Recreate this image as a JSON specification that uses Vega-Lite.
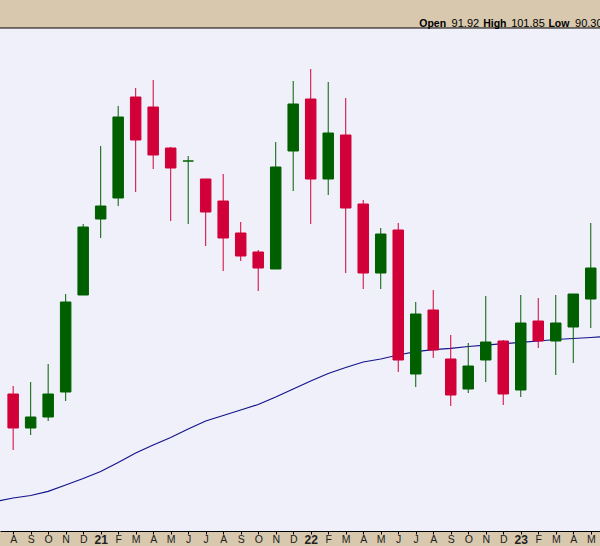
{
  "$schema": "https://vega.github.io/schema/vega-lite/v6.json",
  "width": 600,
  "height": 503,
  "autosize": "none",
  "padding": {"left": 0, "right": 0, "top": 28, "bottom": 15},
  "background": "#d8c8ae",
  "config": {
    "view": {"stroke": null, "fill": "#f0f0fa"},
    "font": "Liberation Sans"
  },
  "resolve": {"axis": {"x": "independent", "y": "independent"}},
  "datasets": {
    "header": [{"label": "header"}],
    "prices": [
      {"month": "2020-07", "i": -1, "open": null, "high": null, "low": null, "close": null, "ma": 68.57},
      {"month": "2020-08", "i": 0, "open": 79.32, "high": 80.12, "low": 73.72, "close": 75.92, "ma": 68.92},
      {"month": "2020-09", "i": 1, "open": 75.92, "high": 80.52, "low": 75.22, "close": 77.02, "ma": 69.17},
      {"month": "2020-10", "i": 2, "open": 77.02, "high": 82.32, "low": 76.62, "close": 79.32, "ma": 69.59},
      {"month": "2020-11", "i": 3, "open": 79.52, "high": 89.32, "low": 78.62, "close": 88.52, "ma": 70.22},
      {"month": "2020-12", "i": 4, "open": 89.22, "high": 96.32, "low": 89.22, "close": 96.02, "ma": 70.87},
      {"month": "2021-01", "i": 5, "open": 96.82, "high": 104.12, "low": 94.92, "close": 98.12, "ma": 71.57},
      {"month": "2021-02", "i": 6, "open": 98.92, "high": 108.12, "low": 98.12, "close": 107.02, "ma": 72.47},
      {"month": "2021-03", "i": 7, "open": 109.02, "high": 109.92, "low": 99.52, "close": 104.72, "ma": 73.42},
      {"month": "2021-04", "i": 8, "open": 108.02, "high": 110.72, "low": 101.82, "close": 103.22, "ma": 74.22},
      {"month": "2021-05", "i": 9, "open": 103.92, "high": 104.02, "low": 96.62, "close": 101.92, "ma": 74.97},
      {"month": "2021-06", "i": 10, "open": 102.62, "high": 103.12, "low": 96.32, "close": 102.62, "ma": 75.82},
      {"month": "2021-07", "i": 11, "open": 100.82, "high": 100.82, "low": 94.12, "close": 97.52, "ma": 76.62},
      {"month": "2021-08", "i": 12, "open": 98.62, "high": 101.32, "low": 91.62, "close": 94.92, "ma": 77.17},
      {"month": "2021-09", "i": 13, "open": 95.42, "high": 96.52, "low": 92.62, "close": 93.12, "ma": 77.72},
      {"month": "2021-10", "i": 14, "open": 93.52, "high": 93.72, "low": 89.62, "close": 91.92, "ma": 78.27},
      {"month": "2021-11", "i": 15, "open": 91.82, "high": 104.52, "low": 91.82, "close": 102.02, "ma": 79.02},
      {"month": "2021-12", "i": 16, "open": 103.62, "high": 110.62, "low": 99.62, "close": 108.32, "ma": 79.82},
      {"month": "2022-01", "i": 17, "open": 108.82, "high": 111.82, "low": 96.32, "close": 100.82, "ma": 80.62},
      {"month": "2022-02", "i": 18, "open": 100.82, "high": 110.52, "low": 99.22, "close": 105.42, "ma": 81.37},
      {"month": "2022-03", "i": 19, "open": 105.22, "high": 108.92, "low": 91.42, "close": 97.92, "ma": 81.97},
      {"month": "2022-04", "i": 20, "open": 98.32, "high": 98.72, "low": 89.82, "close": 91.42, "ma": 82.52},
      {"month": "2022-05", "i": 21, "open": 91.42, "high": 95.92, "low": 89.82, "close": 95.32, "ma": 82.82},
      {"month": "2022-06", "i": 22, "open": 95.72, "high": 96.42, "low": 81.52, "close": 82.72, "ma": 83.22},
      {"month": "2022-07", "i": 23, "open": 81.32, "high": 88.52, "low": 80.02, "close": 87.32, "ma": 83.55},
      {"month": "2022-08", "i": 24, "open": 87.72, "high": 89.72, "low": 82.92, "close": 83.72, "ma": 83.75},
      {"month": "2022-09", "i": 25, "open": 82.82, "high": 85.22, "low": 78.12, "close": 79.22, "ma": 83.89},
      {"month": "2022-10", "i": 26, "open": 79.82, "high": 84.42, "low": 79.42, "close": 82.12, "ma": 84.07},
      {"month": "2022-11", "i": 27, "open": 82.72, "high": 89.12, "low": 80.52, "close": 84.52, "ma": 84.20},
      {"month": "2022-12", "i": 28, "open": 84.62, "high": 84.72, "low": 78.22, "close": 79.32, "ma": 84.35},
      {"month": "2023-01", "i": 29, "open": 79.72, "high": 89.22, "low": 79.02, "close": 86.42, "ma": 84.49},
      {"month": "2023-02", "i": 30, "open": 86.62, "high": 88.92, "low": 83.92, "close": 84.62, "ma": 84.62},
      {"month": "2023-03", "i": 31, "open": 84.62, "high": 89.22, "low": 81.22, "close": 86.42, "ma": 84.77},
      {"month": "2023-04", "i": 32, "open": 86.02, "high": 89.32, "low": 82.42, "close": 89.32, "ma": 84.87},
      {"month": "2023-05", "i": 33, "open": 88.82, "high": 96.42, "low": 85.92, "close": 91.92, "ma": 84.97},
      {"month": "2023-06", "i": 34, "open": null, "high": null, "low": null, "close": null, "ma": 85.07}
    ]
  },
  "layer": [
    {
      "data": {"name": "prices"},
      "encoding": {
        "x": {
          "field": "i",
          "type": "quantitative",
          "scale": {"domain": [-0.4663, 33.2416], "nice": false, "zero": false},
          "axis": {
            "values": [0,1,2,3,4,5,6,7,8,9,10,11,12,13,14,15,16,17,18,19,20,21,22,23,24,25,26,27,28,29,30,31,32,33],
            "labelExpr": "(datum.value+7)%12==0 ? format(20+floor((datum.value+7)/12),'d') : substring('JFMAMJJASOND',(datum.value+7)%12,(datum.value+7)%12+1)",
            "labelFontWeight": {"condition": {"test": "(datum.value+7)%12==0", "value": "bold"}, "value": "normal"},
            "labelFontSize": {"condition": {"test": "(datum.value+7)%12==0", "value": 12}, "value": 10.5},
            "labelFont": "Liberation Sans",
            "labelColor": "#222222",
            "labelPadding": 0,
            "labelFlush": false,
            "labelOverlap": false,
            "labelBound": false,
            "tickSize": 3,
            "tickColor": "#000000",
            "domainColor": "#000000",
            "domainWidth": 1,
            "grid": false,
            "title": null
          }
        },
        "y": {
          "type": "quantitative",
          "scale": {"domain": [65.62, 115.92], "nice": false, "zero": false},
          "axis": null
        }
      },
      "layer": [
        {
          "mark": {"type": "line", "color": "#14148c", "strokeWidth": 1.2, "clip": true},
          "encoding": {"y": {"field": "ma", "type": "quantitative"}}
        },
        {
          "transform": [{"filter": "datum.open != null"}],
          "mark": {"type": "rule", "strokeWidth": 1},
          "encoding": {
            "y": {"field": "low", "type": "quantitative"},
            "y2": {"field": "high"},
            "color": {"condition": {"test": "datum.close >= datum.open", "value": "#006000"}, "value": "#d20038"}
          }
        },
        {
          "transform": [{"filter": "datum.open != null"}],
          "mark": {"type": "bar", "width": 10.5, "strokeWidth": 1},
          "encoding": {
            "y": {"field": "open", "type": "quantitative"},
            "y2": {"field": "close"},
            "color": {"condition": {"test": "datum.close >= datum.open", "value": "#006000"}, "value": "#d20038"},
            "stroke": {"condition": {"test": "datum.close >= datum.open", "value": "#006000"}, "value": "#d20038"}
          }
        }
      ]
    },
    {
      "data": {"name": "header"},
      "mark": {"type": "rule", "color": "#000000", "strokeWidth": 1},
      "encoding": {"y": {"datum": 115.92, "axis": null}}
    },
    {
      "data": {"name": "header"},
      "mark": {"type": "text", "align": "left", "baseline": "alphabetic", "fontWeight": "bold", "fontSize": 10.5, "fill": "#000000", "text": "Open"},
      "encoding": {"x": {"datum": 23.2, "axis": null}, "y": {"datum": 116.07, "axis": null}}
    },
    {
      "data": {"name": "header"},
      "mark": {"type": "text", "align": "left", "baseline": "alphabetic", "fontSize": 11, "fill": "#000000", "text": "91.92"},
      "encoding": {"x": {"datum": 25.05, "axis": null}, "y": {"datum": 116.07, "axis": null}}
    },
    {
      "data": {"name": "header"},
      "mark": {"type": "text", "align": "left", "baseline": "alphabetic", "fontWeight": "bold", "fontSize": 10.5, "fill": "#000000", "text": "High"},
      "encoding": {"x": {"datum": 26.85, "axis": null}, "y": {"datum": 116.07, "axis": null}}
    },
    {
      "data": {"name": "header"},
      "mark": {"type": "text", "align": "left", "baseline": "alphabetic", "fontSize": 11, "fill": "#000000", "text": "101.85"},
      "encoding": {"x": {"datum": 28.45, "axis": null}, "y": {"datum": 116.07, "axis": null}}
    },
    {
      "data": {"name": "header"},
      "mark": {"type": "text", "align": "left", "baseline": "alphabetic", "fontWeight": "bold", "fontSize": 10.5, "fill": "#000000", "text": "Low"},
      "encoding": {"x": {"datum": 30.58, "axis": null}, "y": {"datum": 116.07, "axis": null}}
    },
    {
      "data": {"name": "header"},
      "mark": {"type": "text", "align": "left", "baseline": "alphabetic", "fontSize": 11, "fill": "#000000", "text": "90.30"},
      "encoding": {"x": {"datum": 32.1, "axis": null}, "y": {"datum": 116.07, "axis": null}}
    }
  ]
}
